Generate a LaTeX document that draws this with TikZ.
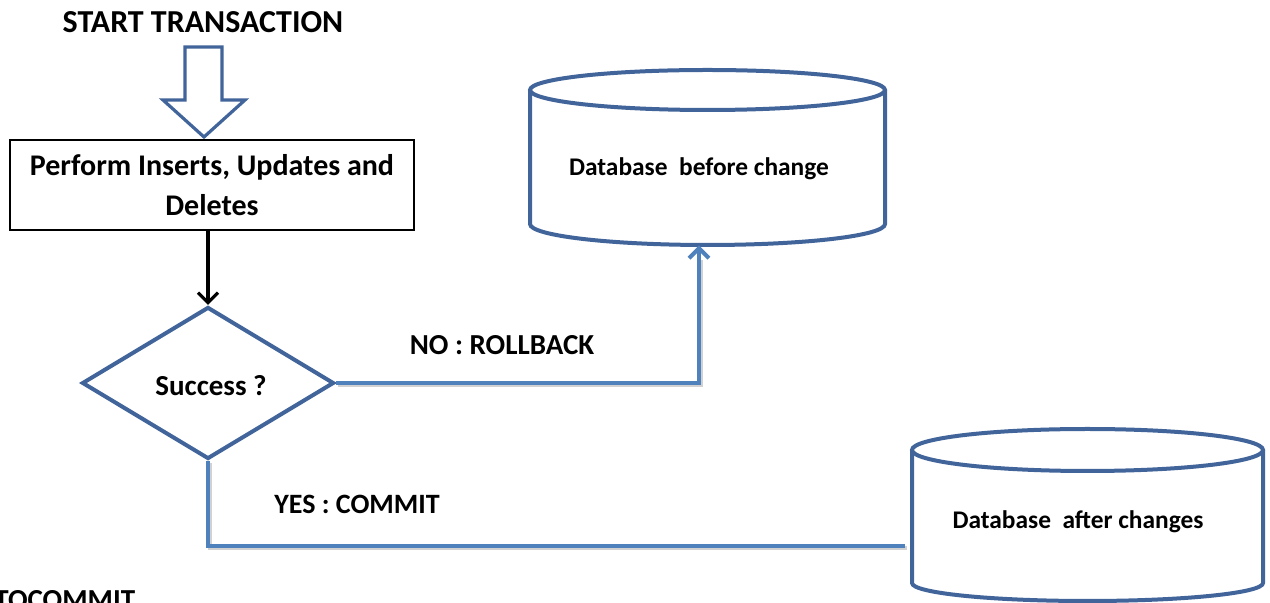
\documentclass[tikz,border=0pt]{standalone}
\usepackage{fontspec}
\setmainfont{Carlito}
\usetikzlibrary{shapes.geometric,arrows.meta,calc}
\definecolor{shapeblue}{HTML}{41659A}
\definecolor{linkblue}{HTML}{4F81BD}
\begin{document}
\begin{tikzpicture}[x=0.5pt,y=-0.5pt,
  lbl/.style={font=\bfseries\fontsize{14.5pt}{17pt}\selectfont, inner sep=0pt},
  dblbl/.style={font=\bfseries\fontsize{12.7pt}{15pt}\selectfont, inner sep=0pt},
  shapeline/.style={draw=shapeblue, line width=2pt},
  link/.style={draw=linkblue, line width=2pt},
  shadowlink/.style={draw=black!18, line width=2pt},
  barb/.style={-{Straight Barb[length=5pt,width=10pt,line width=2pt]}}]
\clip (0,0) rectangle (1270,603);
\fill[white] (0,0) rectangle (1270,603);

% title
\node[lbl, font=\bfseries\fontsize{16pt}{19pt}\selectfont] (start) at (203,22) {START TRANSACTION};

% hollow arrow
\draw[shapeblue, line width=1.6pt, line join=miter] (185,47) -- (222,47) -- (222,100) -- (245,100) -- (204,137) -- (163,100) -- (185,100) -- cycle;

% process box
\node[draw=black, line width=1pt, minimum width=202pt, minimum height=45pt, align=center,
      font=\bfseries\fontsize{15pt}{20pt}\selectfont] (proc) at (212,185)
      {Perform Inserts, Updates and\\Deletes};

% decision
\node[diamond, shapeline, minimum width=126pt, minimum height=76pt, inner sep=0pt] (dec) at (208,383) {};
\node[lbl] (declbl) at (211,386) {Success ?};

\draw[black, line width=1.6pt, -{Straight Barb[length=5pt,width=10pt,line width=1.6pt]}] (proc.south -| dec.north) -- (dec.north);

% database before
\draw[shapeline] (530,90) -- (530,224) arc[start angle=180, end angle=360, x radius=88.75pt, y radius=10.5pt] -- (885,90);
\draw[shapeline] (707.5,90) ellipse[x radius=88.75pt, y radius=10pt];
\node[minimum width=177.5pt, minimum height=88pt, inner sep=0pt] (db1) at (707.5,157) {};
\node[dblbl] (db1lbl) at (699,169) {Database\ \ before change};

% database after
\draw[shapeline] (912,450) -- (912,583) arc[start angle=180, end angle=360, x radius=87.75pt, y radius=9pt] -- (1263,450);
\draw[shapeline] (1087.5,450) ellipse[x radius=87.75pt, y radius=10.5pt];
\node[minimum width=175.5pt, minimum height=86pt, inner sep=0pt] (db2) at (1087.5,515) {};
\node[dblbl] (db2lbl) at (1078,522) {Database\ \ after changes};

% connectors
\coordinate (yesend) at (905,546);
\coordinate (noup) at (db1lbl.center |- db1.south);
\draw[shadowlink, transform canvas={shift={(1pt,-1.2pt)}}] (dec.east) -| ($(noup)+(0,12)$);
\draw[link, barb] (dec.east) -| (noup);
\draw[shadowlink, transform canvas={shift={(1pt,-1.2pt)}}] (dec.south) |- (yesend);
\draw[link] (dec.south) |- (yesend);

% labels
\node[lbl] (nolbl) at (502,345) {NO : ROLLBACK};
\node[lbl, font=\bfseries\fontsize{14pt}{17pt}\selectfont] (yeslbl) at (357,504) {YES : COMMIT};
\node[lbl, anchor=base west] (auto) at (-6,610) {TOCOMMIT};
\end{tikzpicture}
\end{document}
